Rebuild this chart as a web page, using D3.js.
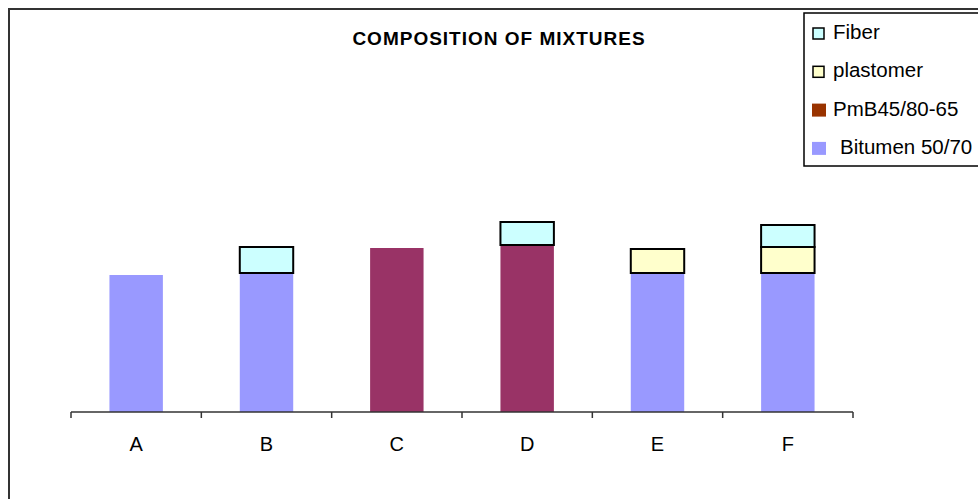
<!DOCTYPE html>
<html>
<head>
<meta charset="utf-8">
<script src="https://cdn.jsdelivr.net/npm/d3@7"></script>
<style>
  body { margin: 0; background: #fff; }
  text { font-family: "Liberation Sans", Arial, sans-serif; }
</style>
</head>
<body>
<div id="chart-container"></div>
<script>
// mixtures and their components (arbitrary units)
const categories = ["A", "B", "C", "D", "E", "F"];
const bitumen   = [13.7, 13.9, 0, 0, 13.9, 13.9];
const pmb       = [0, 0, 16.4, 16.7, 0, 0];
const plastomer = [0, 0, 0, 0, 2.4, 2.6];
const fiber     = [0, 2.6, 0, 2.3, 0, 2.2];

const seriesKeys = ["bitumen", "pmb", "plastomer", "fiber"];
const legendLabels = ["Fiber", "plastomer", "PmB45/80-65", "Bitumen 50/70"];

const width = 978, height = 499;
const marginLeft = 71, marginRight = 125, marginTop = 112, marginBottom = 87;
const graphWidth = width - marginLeft - marginRight;
const graphHeight = height - marginTop - marginBottom;

const table = categories.map((c, i) => ({
  cat: c, bitumen: bitumen[i], pmb: pmb[i], plastomer: plastomer[i], fiber: fiber[i]
}));
const stacked = d3.stack().keys(seriesKeys)(table);

const fills = { bitumen: "#9999FF", pmb: "#993366", plastomer: "#FFFFCC", fiber: "#CCFFFF" };
const outlined = { bitumen: false, pmb: false, plastomer: true, fiber: true };

const svg = d3.select("#chart-container")
  .append("svg")
  .attr("width", width)
  .attr("height", height);

// outer frame
svg.append("rect")
  .attr("x", 9).attr("y", 9)
  .attr("width", 1100).attr("height", 600)
  .attr("fill", "none")
  .attr("stroke", "#333")
  .attr("stroke-width", 2);

const g = svg.append("g")
  .attr("transform", `translate(${marginLeft},${marginTop})`);

const x = d3.scaleBand()
  .domain(categories)
  .range([0, graphWidth])
  .paddingInner(0.59)
  .paddingOuter(0.295);

const y = d3.scaleLinear()
  .domain([0, 30])
  .range([graphHeight, 0]);

// bars
g.selectAll(".series")
  .data(stacked)
  .enter()
  .append("g")
  .attr("class", "series")
  .each(function(s) {
    d3.select(this).selectAll("rect")
      .data(s.filter(d => d[1] - d[0] > 0))
      .enter()
      .append("rect")
      .attr("x", d => x(d.data.cat))
      .attr("y", d => y(d[1]))
      .attr("width", x.bandwidth())
      .attr("height", d => y(d[0]) - y(d[1]))
      .attr("fill", fills[s.key])
      .attr("stroke", outlined[s.key] ? "#000" : "none")
      .attr("stroke-width", 2);
  });

// category axis, ticks between the bars
const xAxis = g.append("g")
  .attr("transform", `translate(0,${graphHeight})`);

xAxis.append("line")
  .attr("x1", 0).attr("x2", graphWidth)
  .attr("stroke", "#333").attr("stroke-width", 1.5);

xAxis.selectAll(".tick")
  .data(d3.range(categories.length + 1))
  .enter()
  .append("line")
  .attr("x1", i => i * x.step()).attr("x2", i => i * x.step())
  .attr("y1", 0).attr("y2", 6)
  .attr("stroke", "#333").attr("stroke-width", 1.5);

xAxis.selectAll(".label")
  .data(categories)
  .enter()
  .append("text")
  .attr("x", d => x(d) + x.bandwidth() / 2)
  .attr("y", 39)
  .style("text-anchor", "middle")
  .style("font-size", "20px")
  .style("fill", "#000")
  .text(d => d);

// title
svg.append("text")
  .attr("x", 499)
  .attr("y", 45)
  .style("text-anchor", "middle")
  .style("font-size", "19px")
  .style("font-weight", "bold")
  .style("letter-spacing", "1px")
  .text("COMPOSITION OF MIXTURES");

// legend
const legendBox = svg.append("g");
legendBox.append("rect")
  .attr("x", 804).attr("y", 13)
  .attr("width", 200).attr("height", 153)
  .attr("fill", "#fff")
  .attr("stroke", "#000")
  .attr("stroke-width", 1.5);

const legendFills = ["#CCFFFF", "#FFFFCC", "#993300", "#9999FF"];
const legendStroke = [true, true, false, false];

const legend = legendBox.selectAll(".legend")
  .data(legendLabels)
  .enter()
  .append("g")
  .attr("class", "legend")
  .attr("transform", (d, i) => `translate(0,${i * 38.3})`);

legend.append("rect")
  .attr("x", (d, i) => legendStroke[i] ? 813 : 812)
  .attr("y", (d, i) => legendStroke[i] ? 28 : 27)
  .attr("width", (d, i) => legendStroke[i] ? 11 : 14)
  .attr("height", (d, i) => legendStroke[i] ? 11 : 13)
  .style("fill", (d, i) => legendFills[i])
  .style("stroke", (d, i) => legendStroke[i] ? "#000" : "none")
  .style("stroke-width", 1.5);

legend.append("text")
  .attr("x", (d, i) => i === 3 ? 840 : 833)
  .attr("y", 39)
  .style("font-size", "20.5px")
  .style("fill", "#000")
  .text(d => d);
</script>
</body>
</html>
